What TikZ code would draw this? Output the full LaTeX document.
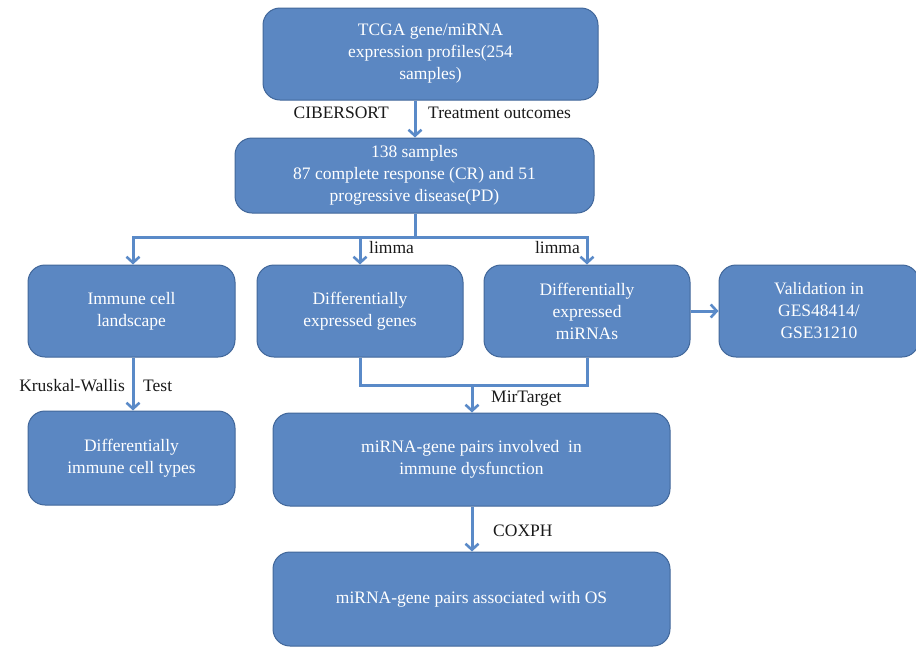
\documentclass[tikz,border=0pt]{standalone}
\usepackage{fontspec}
\setmainfont{Liberation Serif}
\usetikzlibrary{arrows.meta}
\definecolor{boxfill}{HTML}{5B87C2}
\definecolor{boxline}{HTML}{41679A}
\definecolor{arr}{HTML}{5A8AC8}
\begin{document}
\begin{tikzpicture}[x=1pt,y=-1pt,
  box/.style={draw=boxline,line width=1pt,fill=boxfill,rounded corners=17pt,text=white,align=center,font=\fontsize{17.5}{22}\selectfont,inner sep=0pt},
  conn/.style={draw=arr,line width=3pt},
  arrw/.style={conn,-{Straight Barb[length=6pt,width=13pt,line width=2.6pt]}},
  lab/.style={font=\fontsize{17.5}{20}\selectfont,text=black!90,inner sep=0pt}]
\useasboundingbox (0,0) rectangle (916,646);
\node[box,minimum width=335pt,minimum height=92pt] (top) at (430.5,54) {TCGA gene/miRNA\\expression profiles(254\\samples)};
\node[box,minimum width=359pt,minimum height=75pt] (s138) at (414.5,175.5) {138 samples\\87 complete response (CR) and 51\\progressive disease(PD)};
\node[box,minimum width=207pt,minimum height=92pt] (imm) at (131.5,311) {Immune cell\\landscape};
\node[box,minimum width=206pt,minimum height=92pt] (deg) at (360,311) {Differentially\\expressed genes};
\node[box,minimum width=206pt,minimum height=92pt] (dem) at (587,311) {Differentially\\expressed\\miRNAs};
\node[box,minimum width=200pt,minimum height=92pt] (val) at (819,311) {Validation in\\GES48414/\\GSE31210};
\node[box,minimum width=207pt,minimum height=94pt] (dic) at (131.5,458) {Differentially\\immune cell types};
\node[box,minimum width=397pt,minimum height=93pt] (pair) at (471.5,459.5) {miRNA-gene pairs involved\ \ in\\immune dysfunction};
\node[box,minimum width=397pt,minimum height=94pt] (os) at (471.5,599) {miRNA-gene pairs associated with OS};
% arrows
\draw[arrw] (top.south -| 415,0) -- (s138.north -| 415,0);
\coordinate (hb) at (415,237);
\draw[conn] (s138.south -| hb) -- (hb);
\draw[arrw] (hb) -| (imm.north -| 133,0);
\draw[arrw] (hb) -| (deg.north);
\draw[arrw] (hb) -| (dem.north);
\draw[arrw] (imm.south -| 133,0) -- (dic.north -| 133,0);
\draw[arrw] (dem.east) -- (val.west);
\coordinate (br) at (472,385);
\draw[conn] (deg.south) |- (br) -| (dem.south);
\draw[arrw] (br) -- (pair.north -| br);
\draw[arrw] (pair.south -| br) -- (os.north -| br);
% labels
\node[lab,anchor=east] (l1) at (389,113) {CIBERSORT};
\node[lab,anchor=west] (l2) at (428,113) {Treatment outcomes};
\node[lab,anchor=west] (l3) at (369,248) {limma};
\node[lab,anchor=east] (l4) at (580,248) {limma};
\node[lab,anchor=east] (l5) at (125,386) {Kruskal-Wallis};
\node[lab,anchor=west] (l6) at (143,386) {Test};
\node[lab,anchor=west] (l7) at (491,399) {MirTarget};
\node[lab,anchor=west] (l8) at (493,531) {COXPH};
\end{tikzpicture}
\end{document}
